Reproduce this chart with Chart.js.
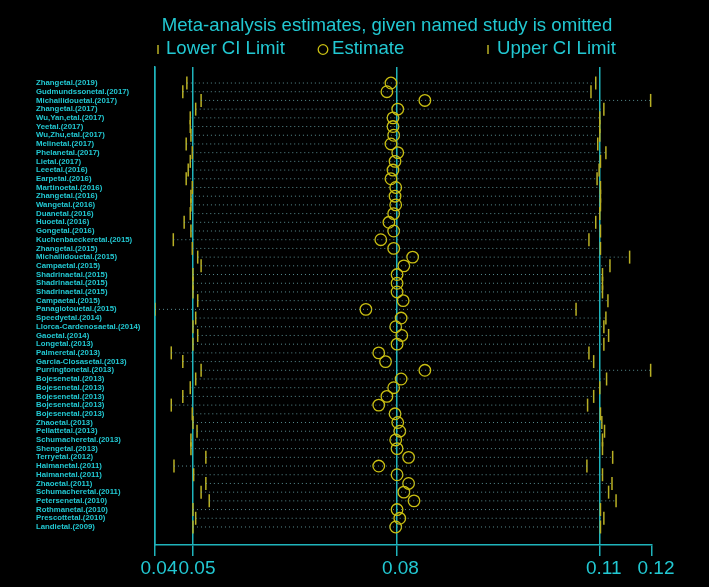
<!DOCTYPE html>
<html>
<head>
<meta charset="utf-8">
<script src="https://cdn.jsdelivr.net/npm/chart.js@4/dist/chart.umd.min.js"></script>
<style>
  html, body { margin: 0; padding: 0; background: #000; }
  canvas { display: block; }
</style>
</head>
<body>
<canvas id="infChart" width="709" height="587"></canvas>
<script>
/* Influence plot: meta-analysis estimate when each study is left out */

const studies = [
  'Zhangetal.(2019)', 'Gudmundssonetal.(2017)', 'Michailidouetal.(2017)', 'Zhangetal.(2017)',
  'Wu,Yan,etal.(2017)', 'Yeetal.(2017)', 'Wu,Zhu,etal.(2017)', 'Melinetal.(2017)',
  'Phelanetal.(2017)', 'Lietal.(2017)', 'Leeetal.(2016)', 'Earpetal.(2016)',
  'Martinoetal.(2016)', 'Zhangetal.(2016)', 'Wangetal.(2016)', 'Duanetal.(2016)',
  'Huoetal.(2016)', 'Gongetal.(2016)', 'Kuchenbaeckeretal.(2015)', 'Zhangetal.(2015)',
  'Michailidouetal.(2015)', 'Campaetal.(2015)', 'Shadrinaetal.(2015)', 'Shadrinaetal.(2015)',
  'Shadrinaetal.(2015)', 'Campaetal.(2015)', 'Panagiotouetal.(2015)', 'Speedyetal.(2014)',
  'Llorca-Cardenosaetal.(2014)', 'Gaoetal.(2014)', 'Longetal.(2013)', 'Palmeretal.(2013)',
  'Garcia-Closasetal.(2013)', 'Purringtonetal.(2013)', 'Bojesenetal.(2013)', 'Bojesenetal.(2013)',
  'Bojesenetal.(2013)', 'Bojesenetal.(2013)', 'Bojesenetal.(2013)', 'Zhaoetal.(2013)',
  'Pellattetal.(2013)', 'Schumacheretal.(2013)', 'Shengetal.(2013)', 'Terryetal.(2012)',
  'Haimanetal.(2011)', 'Haimanetal.(2011)', 'Zhaoetal.(2011)', 'Schumacheretal.(2011)',
  'Petersenetal.(2010)', 'Rothmanetal.(2010)', 'Prescottetal.(2010)', 'Landietal.(2009)'
];

const estimate = [
  0.0792, 0.0786, 0.0842, 0.0802, 0.0795, 0.0795, 0.0796, 0.0792, 0.0802, 0.0798,
  0.0795, 0.0792, 0.0799, 0.0798, 0.0799, 0.0796, 0.0789, 0.0796, 0.0777, 0.0796,
  0.0824, 0.0811, 0.0801, 0.0801, 0.0801, 0.0810, 0.0755, 0.0807, 0.0799, 0.0808,
  0.0801, 0.0774, 0.0784, 0.0842, 0.0807, 0.0796, 0.0786, 0.0774, 0.0798, 0.0802,
  0.0805, 0.0799, 0.0801, 0.0818, 0.0774, 0.0801, 0.0818, 0.0811, 0.0826, 0.0801,
  0.0805, 0.0799
];

const lowerCI = [
  0.0491, 0.0485, 0.0512, 0.0504, 0.0496, 0.0496, 0.0497, 0.0490, 0.0499, 0.0496,
  0.0493, 0.0490, 0.0499, 0.0497, 0.0497, 0.0496, 0.0487, 0.0497, 0.0471, 0.0499,
  0.0507, 0.0512, 0.0500, 0.0500, 0.0500, 0.0507, 0.0444, 0.0504, 0.0500, 0.0507,
  0.0500, 0.0468, 0.0485, 0.0512, 0.0504, 0.0496, 0.0485, 0.0468, 0.0499, 0.0500,
  0.0506, 0.0497, 0.0497, 0.0519, 0.0472, 0.0501, 0.0519, 0.0512, 0.0524, 0.0500,
  0.0504, 0.0500
];

const upperCI = [
  0.1094, 0.1087, 0.1175, 0.1106, 0.1100, 0.1100, 0.1100, 0.1097, 0.1109, 0.1101,
  0.1099, 0.1096, 0.1101, 0.1101, 0.1101, 0.1100, 0.1094, 0.1101, 0.1084, 0.1101,
  0.1144, 0.1115, 0.1104, 0.1104, 0.1104, 0.1112, 0.1065, 0.1109, 0.1106, 0.1113,
  0.1106, 0.1084, 0.1091, 0.1175, 0.1110, 0.1100, 0.1091, 0.1082, 0.1101, 0.1103,
  0.1107, 0.1104, 0.1104, 0.1119, 0.1081, 0.1104, 0.1118, 0.1113, 0.1124, 0.1101,
  0.1106, 0.1101
];

// axis runs from smallest lower limit to largest upper limit, plus overall CI and estimate
const xTickValues = [0.0444, 0.05, 0.08, 0.11, 0.1177];
const xTickLabels = ['0.04', '0.05', '0.08', '0.11', '0.12'];

const titleText = 'Meta-analysis estimates, given named study is omitted';
const legendLabels = ['Lower CI Limit', 'Estimate', 'Upper CI Limit'];

const CYAN_TEXT = '#22c8d2';
const CYAN_LINE = '#1fb3bb';
const TICK_YELLOW = '#b9b024';
const EST_YELLOW = '#c9bf12';
const FONT = "'Liberation Sans', Arial, sans-serif";

const rowY = i => i + 1;

// dotted CI segments, broken between rows
const ciSegments = studies.flatMap((s, i) => [
  { x: lowerCI[i], y: rowY(i) },
  { x: upperCI[i], y: rowY(i) },
  { x: null, y: rowY(i) }
]);

// Title and legend, placed like the original Stata graph
const headerPlugin = {
  id: 'header',
  afterDraw(chart) {
    const ctx = chart.ctx;
    ctx.save();
    ctx.fillStyle = CYAN_TEXT;
    ctx.font = `18.6px ${FONT}`;
    ctx.textBaseline = 'alphabetic';
    ctx.textAlign = 'center';
    ctx.fillText(titleText, 387, 31);

    ctx.textAlign = 'left';
    // lower limit key
    ctx.strokeStyle = TICK_YELLOW;
    ctx.lineWidth = 1.5;
    ctx.beginPath();
    ctx.moveTo(158, 45);
    ctx.lineTo(158, 54);
    ctx.stroke();
    ctx.fillText(legendLabels[0], 166, 54);
    // estimate key
    ctx.strokeStyle = EST_YELLOW;
    ctx.lineWidth = 1.3;
    ctx.beginPath();
    ctx.arc(323, 49.5, 4.8, 0, Math.PI * 2);
    ctx.stroke();
    ctx.fillText(legendLabels[1], 332, 54);
    // upper limit key
    ctx.strokeStyle = TICK_YELLOW;
    ctx.lineWidth = 1.5;
    ctx.beginPath();
    ctx.moveTo(488, 45);
    ctx.lineTo(488, 54);
    ctx.stroke();
    ctx.fillText(legendLabels[2], 497, 54);
    ctx.restore();
  }
};

const ctx = document.getElementById('infChart').getContext('2d');

new Chart(ctx, {
  type: 'scatter',
  data: {
    datasets: [
      {
        type: 'line',
        label: 'CI',
        data: ciSegments,
        borderColor: 'rgba(110, 175, 180, 0.8)',
        borderWidth: 1,
        borderDash: [1, 3],
        pointRadius: 0,
        spanGaps: false,
        fill: false
      },
      {
        label: legendLabels[0],
        data: lowerCI.map((v, i) => ({ x: v, y: rowY(i) })),
        pointStyle: 'line',
        rotation: 90,
        radius: 6.5,
        borderColor: TICK_YELLOW,
        borderWidth: 1.5
      },
      {
        label: legendLabels[2],
        data: upperCI.map((v, i) => ({ x: v, y: rowY(i) })),
        pointStyle: 'line',
        rotation: 90,
        radius: 6.5,
        borderColor: TICK_YELLOW,
        borderWidth: 1.5
      },
      {
        label: legendLabels[1],
        data: estimate.map((v, i) => ({ x: v, y: rowY(i) })),
        pointStyle: 'circle',
        radius: 5.8,
        backgroundColor: 'rgba(0,0,0,0)',
        borderColor: EST_YELLOW,
        borderWidth: 1.3
      }
    ]
  },
  options: {
    responsive: false,
    animation: false,
    events: [],
    layout: { padding: { left: 36, top: 67, right: 57, bottom: 0 } },
    plugins: {
      legend: { display: false },
      title: { display: false },
      tooltip: { enabled: false }
    },
    scales: {
      x: {
        type: 'linear',
        position: 'bottom',
        min: xTickValues[0],
        max: xTickValues[xTickValues.length - 1],
        afterBuildTicks: scale => {
          scale.ticks = xTickValues.map(v => ({ value: v }));
        },
        afterFit: scale => { scale.height = 42; },
        ticks: {
          autoSkip: false,
          maxRotation: 0,
          padding: 1,
          labelOffset: 4,
          color: CYAN_TEXT,
          font: { family: FONT, size: 19 },
          callback: (value, index) => xTickLabels[index]
        },
        grid: {
          color: c => (c.index === xTickValues.length - 1 ? 'rgba(0,0,0,0)' : CYAN_LINE),
          tickColor: CYAN_LINE,
          lineWidth: 1.5,
          tickLength: 11
        },
        border: { display: true, color: CYAN_LINE, width: 1.5 }
      },
      y: {
        type: 'linear',
        reverse: true,
        min: -0.84,
        max: 54.07,
        afterBuildTicks: scale => {
          scale.ticks = studies.map((s, i) => ({ value: rowY(i) }));
        },
        afterFit: scale => { scale.width = 119; },
        ticks: {
          autoSkip: false,
          crossAlign: 'far',
          padding: 0,
          color: CYAN_TEXT,
          font: { family: FONT, size: 7.8, weight: 'bold' },
          callback: (value, index) => studies[index]
        },
        grid: { drawOnChartArea: false, drawTicks: false, color: 'rgba(0,0,0,0)' },
        border: { display: true, color: CYAN_LINE, width: 1.5 }
      }
    }
  },
  plugins: [headerPlugin]
});
</script>
</body>
</html>
